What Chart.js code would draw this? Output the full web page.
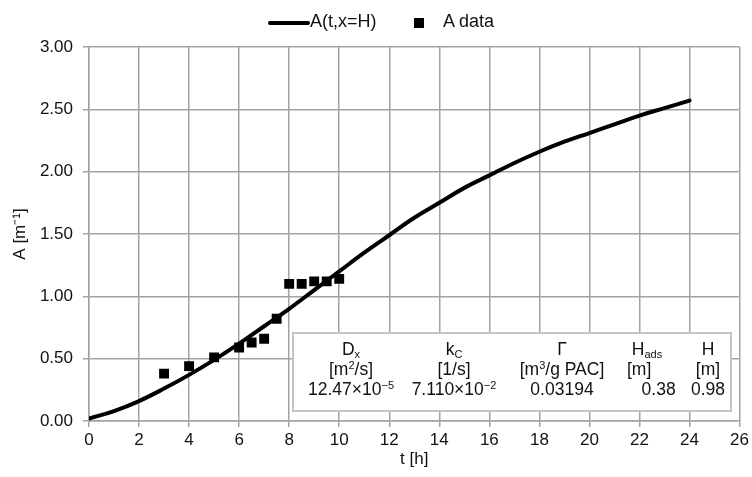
<!DOCTYPE html>
<html>
<head>
<meta charset="UTF-8">
<title>A(t,x=H)</title>
<script src="https://cdn.jsdelivr.net/npm/chart.js"></script>
<style>
    body { margin: 0; background: #fff; }
    #wrap { position: relative; width: 752px; height: 477px; font-family: "Liberation Sans", Arial, sans-serif; color: #111; }
    #legend { position: absolute; top: 11px; left: 268px; height: 24px; font-size: 18px; }
    #legend .line { position: absolute; left: 0; top: 10px; width: 42px; height: 4px; background: #000; border-radius: 2px; }
    #legend .t1 { position: absolute; left: 42px; top: 0px; white-space: nowrap; }
    #legend .sq { position: absolute; left: 146px; top: 7px; width: 10px; height: 10px; background: #000; }
    #legend .t2 { position: absolute; left: 175px; top: 0px; white-space: nowrap; }
    #params { position: absolute; left: 292px; top: 332px; width: 440px; height: 80px; box-sizing: border-box;
              border: 2px solid #c4c4c4; background: #fff; font-size: 17.5px; }
    #params .col { position: absolute; top: 5px; line-height: 20px; white-space: nowrap; }
    #params .c { text-align: center; width: 130px; }
    sub, sup { font-size: 11px; line-height: 0; position: relative; vertical-align: baseline; }
    sup { top: -0.55em; }
    sub { top: 0.3em; }
</style>
</head>
<body>
<div id="wrap">
    <canvas id="myChart"></canvas>
    <div id="legend">
        <div class="line"></div><div class="t1">A(t,x=H)</div>
        <div class="sq"></div><div class="t2">A data</div>
    </div>
    <div id="params">
        <div class="col c" style="left:-8px">D<sub>x</sub><br>[m<sup>2</sup>/s]<br>12.47×10<sup>−5</sup></div>
        <div class="col c" style="left:95px">k<sub>C</sub><br>[1/s]<br>7.110×10<sup>−2</sup></div>
        <div class="col c" style="left:203px">Γ<br>[m<sup>3</sup>/g PAC]<br>0.03194</div>
        <div class="col" style="left:333px">&nbsp;H<sub>ads</sub><br>[m]<br>&nbsp;&nbsp;&nbsp;0.38</div>
        <div class="col c" style="left:349px">H<br>[m]<br>0.98</div>
    </div>
</div>

<script>
    // model curve A(t, x=H)
    const curveT = [0, 1, 2, 3, 4, 5, 6, 7, 8, 9, 10, 11, 12, 13, 14, 15, 16, 17, 18, 19, 20, 21, 22, 23, 24];
    const curveA = [0.02, 0.08, 0.16, 0.26, 0.37, 0.49, 0.62, 0.76, 0.90, 1.05, 1.20, 1.35, 1.49,
                    1.63, 1.75, 1.87, 1.97, 2.07, 2.16, 2.24, 2.31, 2.38, 2.45, 2.51, 2.57];

    // measured points
    const dataT = [3, 4, 5, 6, 6.5, 7, 7.5, 8, 8.5, 9, 9.5, 10];
    const dataA = [0.38, 0.44, 0.51, 0.59, 0.63, 0.66, 0.82, 1.10, 1.10, 1.12, 1.12, 1.14];

    const gridColor = '#a3a3a3';
    const tickFont = {family: 'Liberation Sans', size: 17};

    const canvas = document.getElementById('myChart');
    canvas.width = 752;
    canvas.height = 477;

    const config = {
        type: 'line',
        data: {
            datasets: [{
                label: 'A(t,x=H)',
                data: curveT.map((t, i) => ({x: t, y: curveA[i]})),
                borderColor: '#000',
                borderWidth: 4,
                pointRadius: 0,
                tension: 0.4,
                borderCapStyle: 'round',
                order: 0
            }, {
                label: 'A data',
                type: 'scatter',
                data: dataT.map((t, i) => ({x: t, y: dataA[i]})),
                pointStyle: 'rect',
                pointRadius: 7,
                backgroundColor: '#000',
                borderWidth: 0,
                showLine: false,
                order: 1
            }]
        },
        options: {
            responsive: false,
            animation: false,
            layout: {padding: {top: 47, right: 12, left: 0, bottom: 0}},
            plugins: {
                legend: {display: false},
                tooltip: {enabled: false}
            },
            scales: {
                x: {
                    type: 'linear',
                    min: 0,
                    max: 26,
                    ticks: {stepSize: 2, font: tickFont, color: '#111', padding: 3, maxRotation: 0},
                    grid: {color: gridColor, lineWidth: 1.5, tickLength: 6},
                    border: {color: gridColor, width: 1.5},
                    title: {display: true, text: 't [h]', font: tickFont, color: '#111', padding: {top: 0, bottom: 7}},
                    afterFit: (scale) => { scale.height = 56; }
                },
                y: {
                    min: 0,
                    max: 3,
                    ticks: {stepSize: 0.5, font: tickFont, color: '#111', padding: 10,
                            callback: (v) => v.toFixed(2)},
                    grid: {color: gridColor, lineWidth: 1.5, tickLength: 6},
                    border: {color: gridColor, width: 1.5},
                    title: {display: true, text: 'A [m⁻¹]', font: tickFont, color: '#111', padding: {top: 10, bottom: 0}},
                    afterFit: (scale) => { scale.width = 89; }
                }
            }
        }
    };

    const chart = new Chart(canvas, config);
</script>
</body>
</html>
